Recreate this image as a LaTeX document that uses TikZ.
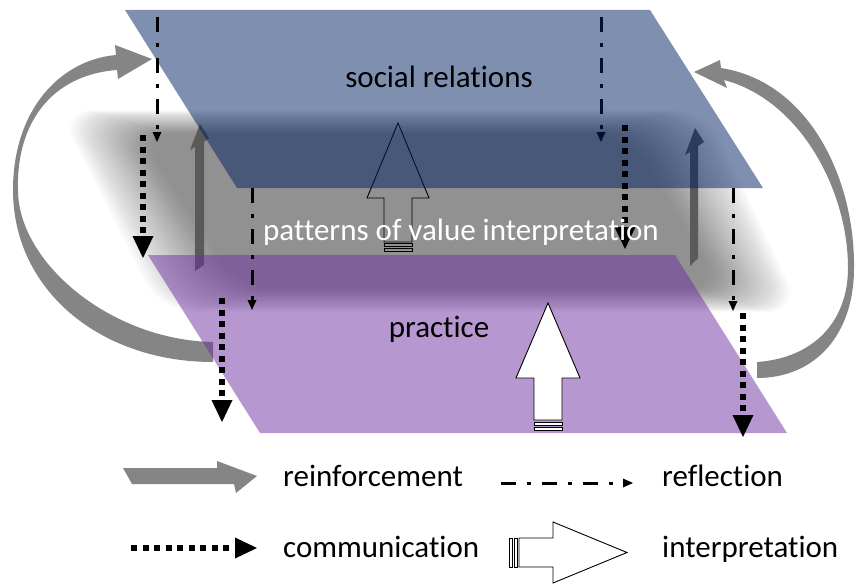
\documentclass[tikz,border=0pt]{standalone}
\usepackage{fontspec}
\setmainfont{Carlito}[Ligatures=NoCommon]
\usetikzlibrary{arrows.meta}
\definecolor{planeblue}{HTML}{002060}
\definecolor{planepurple}{HTML}{7030A0}
\definecolor{reinf}{HTML}{858585}
\definecolor{darkarr}{HTML}{5A5A5A}
% vertical communication arrow: x, y start, y tip
\newcommand\commdown[3]{%
  \draw[comm] (#1,#2) -- (#1,#3-22);
  \fill[black] (#1-10.5,#3-22) -- (#1+10.5,#3-22) -- (#1,#3) -- cycle;}
% vertical reflection arrow: x, y start, y tip
\newcommand\refldown[3]{%
  \draw[refl] (#1,#2) -- (#1,#3-9);
  \fill[black] (#1-4.5,#3-10) -- (#1+4.5,#3-10) -- (#1,#3) -- cycle;}
\tikzset{
  comm/.style={line width=6pt, dash pattern=on 6pt off 5.5pt},
  refl/.style={line width=3pt, dash pattern=on 15pt off 11pt on 4pt off 11pt},
  lbl/.style={font=\fontsize{31}{37}\selectfont, inner sep=0pt},
  blockarrow/.style={draw=black, line width=0.9pt, line join=miter},
}
\begin{document}
\begin{tikzpicture}[x=1pt,y=-1pt]
\useasboundingbox (0,0) rectangle (856,586);

% soft gray band (blurred slanted band between the planes)
\foreach \i in {0,...,35}{
  \pgfmathsetmacro\dh{-40+80*\i/35}
  \pgfmathsetmacro\dv{-12+24*\i/35}
  \fill[black, fill opacity=0.0141, rounded corners=35pt]
    ({98+\dh},{122+\dv}) -- ({668-\dh},{122+\dv}) -- ({762-\dh},{300-\dv})
    -- ({200+\dh},{300-\dv}) -- cycle;
}

% reinforcement arcs
\fill[reinf] (213,362) .. controls (100,362) and (13,290) .. (13,190)
  .. controls (13,110) and (60,60) .. (116,55) -- (115,45) -- (152,59)
  -- (118,79) -- (117,70) .. controls (50,75) and (16,125) .. (18,190)
  .. controls (18,262) and (110,340) .. (213,342) -- cycle;
\fill[reinf] (757,362) .. controls (815,358) and (848,320) .. (848,268)
  .. controls (848,190) and (800,100) .. (724,80) -- (727,88) -- (694,72)
  -- (720,60) -- (721,68) .. controls (810,82) and (855,180) .. (854,268)
  .. controls (854,335) and (815,378) .. (757,378) -- cycle;

% dark vertical arrows (beneath the planes)
\fill[darkarr] (195,271) -- (195,147) -- (190,150) -- (200,124) -- (209,138)
  -- (204,142) -- (204,265) -- cycle;
\fill[darkarr] (690,266) -- (690,152) -- (685,155) -- (695,128) -- (704,142)
  -- (698,146) -- (698,258) -- cycle;

% reflection arrow beneath the upper plane
\refldown{601}{17}{142}

% hollow interpretation arrow (beneath upper plane)
\draw[blockarrow] (398,123) -- (429,198) -- (412,198) -- (412,242) -- (384,242)
  -- (384,198) -- (367,198) -- cycle;
\draw[blockarrow] (384,243.5) rectangle (412,246.5);
\draw[blockarrow] (384,248) rectangle (412,251.5);

% planes
\fill[planeblue, fill opacity=0.5] (125,10) -- (650,10) -- (763,188) -- (237,188) -- cycle;
\fill[planepurple, fill opacity=0.5] (148,255) -- (675,255) -- (787,433) -- (260,433) -- cycle;

% white interpretation arrow on practice
\draw[blockarrow, fill=white] (548,303) -- (580,378) -- (562,378) -- (562,420)
  -- (534,420) -- (534,378) -- (516,378) -- cycle;
\draw[blockarrow, fill=white] (534,422) rectangle (562,425.5);
\draw[blockarrow, fill=white] (534,427) rectangle (562,430.5);

% reflection arrows
\refldown{157}{17}{142}
\refldown{252}{188}{310}
\refldown{733}{188}{311}

% communication arrows
\commdown{143}{135}{258}
\commdown{222}{298}{422}
\commdown{625}{125}{249}
\commdown{743}{313}{437}

% labels
\node[lbl, anchor=base] (sr) at (439,88) {social relations};
\node[lbl, anchor=base] (pr) at (439,337) {practice};
\node[lbl, anchor=base west, text=white] (pv) at (263,240) {patterns of value interpretation};

% legend
\fill[reinf] (123,468) -- (217,468) -- (217,461) -- (257,476) -- (236,493)
  -- (234,484) -- (132,484) -- cycle;
\node[lbl, anchor=base west] (lr) at (283,486) {reinforcement};

\draw[refl] (501,483) -- (624,483);
\fill[black] (623,478.5) -- (623,487.5) -- (633,483) -- cycle;
\node[lbl, anchor=base west] (lf) at (662,486) {reflection};

\draw[comm] (131,548) -- (235,548);
\fill[black] (235,537.5) -- (235,558.5) -- (257,548) -- cycle;
\node[lbl, anchor=base west] (lc) at (283,557) {communication};

\draw[blockarrow, fill=white] (627,552.5) -- (553,522) -- (553,538) -- (519,538)
  -- (519,567) -- (553,567) -- (553,583) -- cycle;
\draw[blockarrow, fill=white] (509,538) rectangle (512,567);
\draw[blockarrow, fill=white] (514,538) rectangle (517,567);
\node[lbl, anchor=base west] (li) at (662,557) {interpretation};
\end{tikzpicture}
\end{document}
